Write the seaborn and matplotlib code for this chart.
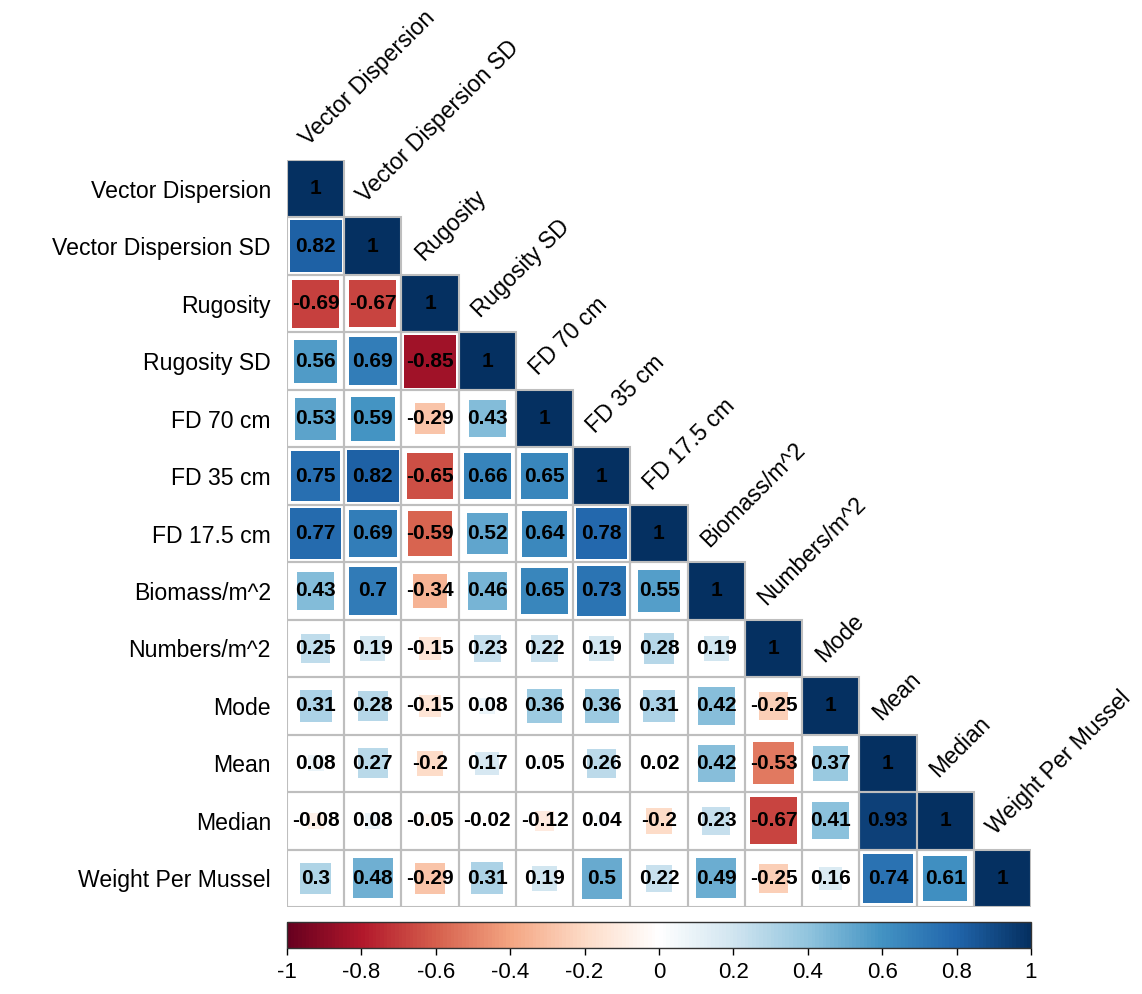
import numpy as np
import pandas as pd
import matplotlib
matplotlib.use("Agg")
import matplotlib.pyplot as plt
from matplotlib.colors import LinearSegmentedColormap, ListedColormap, Normalize
from matplotlib.patches import Rectangle
from matplotlib.cm import ScalarMappable
import seaborn as sns

# Variables in the correlation matrix
variables = [
    "Vector Dispersion", "Vector Dispersion SD", "Rugosity", "Rugosity SD",
    "FD 70 cm", "FD 35 cm", "FD 17.5 cm", "Biomass/m^2", "Numbers/m^2",
    "Mode", "Mean", "Median", "Weight Per Mussel",
]

# Lower-triangle correlations, one list per row (columns before the diagonal)
r_vd_sd = [0.82]
r_rug = [-0.69, -0.67]
r_rug_sd = [0.56, 0.69, -0.85]
r_fd70 = [0.53, 0.59, -0.29, 0.43]
r_fd35 = [0.75, 0.82, -0.65, 0.66, 0.65]
r_fd175 = [0.77, 0.69, -0.59, 0.52, 0.64, 0.78]
r_biomass = [0.43, 0.70, -0.34, 0.46, 0.65, 0.73, 0.55]
r_numbers = [0.25, 0.19, -0.15, 0.23, 0.22, 0.19, 0.28, 0.19]
r_mode = [0.31, 0.28, -0.15, 0.08, 0.36, 0.36, 0.31, 0.42, -0.25]
r_mean = [0.08, 0.27, -0.20, 0.17, 0.05, 0.26, 0.02, 0.42, -0.53, 0.37]
r_median = [-0.08, 0.08, -0.05, -0.02, -0.12, 0.04, -0.20, 0.23, -0.67, 0.41, 0.93]
r_weight = [0.30, 0.48, -0.29, 0.31, 0.19, 0.50, 0.22, 0.49, -0.25, 0.16, 0.74, 0.61]

cbar_ticks = [-1, -0.8, -0.6, -0.4, -0.2, 0, 0.2, 0.4, 0.6, 0.8, 1]

rows = [[], r_vd_sd, r_rug, r_rug_sd, r_fd70, r_fd35, r_fd175, r_biomass,
        r_numbers, r_mode, r_mean, r_median, r_weight]

n = len(variables)
corr = np.eye(n)
for i, vals in enumerate(rows):
    for j, v in enumerate(vals):
        corr[i, j] = v
        corr[j, i] = v
corr_df = pd.DataFrame(corr, index=variables, columns=variables)

sns.set_style("white")
plt.rcParams["font.family"] = ["Liberation Sans", "DejaVu Sans"]

# Red-blue diverging palette
rdbu = LinearSegmentedColormap.from_list(
    "rdbu",
    ["#67001F", "#B2182B", "#D6604D", "#F4A582", "#FDDBC7", "#FFFFFF",
     "#D1E5F0", "#92C5DE", "#4393C3", "#2166AC", "#053061"],
    N=200,
)
norm = Normalize(-1, 1)

fig = plt.figure(figsize=(11.42, 9.94), dpi=100)
ax = fig.add_axes([0.2513, 0.0875, 0.6515, 0.7515])

upper = np.triu(np.ones((n, n), dtype=bool), k=1)
annot = np.array([[f"{v:g}" for v in row] for row in corr])

sns.heatmap(
    corr_df, mask=upper, cmap=ListedColormap(["white"]), cbar=False,
    annot=annot, fmt="", annot_kws={"fontsize": 15, "fontweight": "bold", "color": "black"},
    xticklabels=False, yticklabels=False, ax=ax,
)
ax.set_xlim(0, n)
ax.set_ylim(n, 0)
ax.axis("off")

# Squares whose area scales with |r|, then the cell grid on top
for i in range(n):
    for j in range(i + 1):
        v = corr[i, j]
        side = min(np.sqrt(abs(v)), 1.0)
        ax.add_patch(Rectangle((j + 0.5 - side / 2, i + 0.5 - side / 2), side, side,
                               facecolor=rdbu(norm(v)), edgecolor="none", zorder=1.5))
        ax.add_patch(Rectangle((j, i), 1, 1, fill=False, edgecolor="#BEBEBE",
                               linewidth=1.5, zorder=2))

# Row labels on the left, column labels along the diagonal
for i, name in enumerate(variables):
    ax.text(-0.28, i + 0.5, name, ha="right", va="center_baseline",
            fontsize=16.6, color="black", clip_on=False)
    ax.text(i + 0.38, i - 0.24, name, ha="left", va="baseline", rotation=45,
            rotation_mode="anchor", fontsize=16.6, color="black", clip_on=False)

# Horizontal colour key
cax = fig.add_axes([0.2513, 0.0463, 0.6515, 0.0262])
sm = ScalarMappable(norm=norm, cmap=rdbu)
cb = fig.colorbar(sm, cax=cax, orientation="horizontal", ticks=cbar_ticks)
cb.ax.set_xticklabels([f"{t:g}" for t in cbar_ticks])
cb.ax.tick_params(labelsize=16, length=5, width=1, direction="out", pad=5,
                  colors="black", labelcolor="black")
cb.outline.set_linewidth(1.0)
cb.outline.set_edgecolor("#333333")

fig.savefig("out.png", dpi=100)
